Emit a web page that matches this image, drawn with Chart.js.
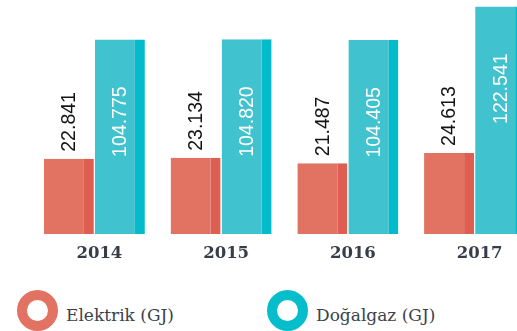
<!DOCTYPE html>
<html lang="tr">
<head>
<meta charset="utf-8">
<title>Enerji Tüketimi</title>
<script src="https://cdn.jsdelivr.net/npm/chart.js@4.4.1/dist/chart.umd.min.js"></script>
<style>
  html, body { margin: 0; padding: 0; background: #ffffff; overflow: hidden; }
  body { width: 517px; height: 331px; position: relative; }
  #wrap { position: absolute; left: 0; top: 0; width: 540px; height: 270px; }
  #legend { position: absolute; left: 0; top: 290px; width: 517px; height: 41px; }
  .item { position: absolute; top: 0; height: 41px; display: flex; align-items: center; }
  .ring { width: 21px; height: 21px; border-radius: 50%; border: 10px solid; flex: none; }
  .txt { font-family: 'DejaVu Serif', serif; font-size: 17px; color: #3b424c; margin-left: 8px; white-space: nowrap; position: relative; top: 4px; }
</style>
</head>
<body>
<div id="wrap"><canvas id="chart"></canvas></div>
<div id="legend"></div>
<script>
// Yıllık enerji tüketimi
const years = ['2014', '2015', '2016', '2017'];
const elektrik = [22841, 23134, 21487, 24613];     // GJ
const dogalgaz = [104775, 104820, 104405, 122541]; // GJ
const seriesNames = ['Elektrik (GJ)', 'Doğalgaz (GJ)'];

const RED = '#e27262', RED_DARK = '#de5f52';
const TEAL = '#40c3ce', TEAL_DARK = '#02bccb';
const SLAB = "'DejaVu Serif', serif";

// 22841 -> "22.841"
function fmt(v) {
  return String(v).replace(/\B(?=(\d{3})+(?!\d))/g, '.');
}

// Rotated value labels: above the red bars, inside the teal bars
const valueLabels = {
  id: 'valueLabels',
  afterDatasetsDraw(chart) {
    const ctx = chart.ctx;
    ctx.save();
    ctx.font = '19.5px "Liberation Sans", Arial, sans-serif';
    ctx.textBaseline = 'middle';
    chart.data.datasets.forEach((ds, di) => {
      const meta = chart.getDatasetMeta(di);
      meta.data.forEach((bar, i) => {
        const label = fmt(ds.data[i]);
        ctx.save();
        if (di === 0) {
          ctx.translate(bar.x, bar.y - 7);
          ctx.rotate(-Math.PI / 2);
          ctx.textAlign = 'left';
          ctx.fillStyle = '#141414';
        } else {
          ctx.translate(bar.x, bar.y + 47);
          ctx.rotate(-Math.PI / 2);
          ctx.textAlign = 'right';
          ctx.fillStyle = '#ffffff';
        }
        ctx.fillText(label, 0, 1);
        ctx.restore();
      });
    });
    ctx.restore();
  }
};

const chart = new Chart(document.getElementById('chart'), {
  type: 'bar',
  data: {
    labels: years,
    datasets: [
      {
        label: seriesNames[0],
        data: elektrik,
        yAxisID: 'y',
        backgroundColor: RED,
        borderColor: RED_DARK,
        borderWidth: { top: 0, left: 0, bottom: 0, right: 10 },
        borderSkipped: false
      },
      {
        label: seriesNames[1],
        data: dogalgaz,
        yAxisID: 'y2',
        backgroundColor: TEAL,
        borderColor: TEAL_DARK,
        borderWidth: { top: 0, left: 0, bottom: 0, right: 10 },
        borderSkipped: false
      }
    ]
  },
  options: {
    responsive: true,
    maintainAspectRatio: false,
    animation: false,
    devicePixelRatio: 1,
    layout: { padding: { left: 31, right: 2, top: 0, bottom: 0 } },
    datasets: {
      bar: { categoryPercentage: 0.805, barPercentage: 0.98, inflateAmount: 0 }
    },
    scales: {
      x: {
        grid: { display: false, drawTicks: false },
        border: { display: false },
        ticks: {
          color: '#363d48',
          font: { family: SLAB, size: 16.5, weight: 'bold' },
          padding: 10,
          labelOffset: 5
        },
        afterFit(scale) { scale.height = 36; }
      },
      y: { display: false, min: 0, max: 71000 },
      y2: { display: false, min: 0, max: 126000 }
    },
    plugins: {
      legend: { display: false },
      tooltip: { enabled: false }
    }
  },
  plugins: [valueLabels]
});

// Legend built from the chart's datasets
const legendEl = document.getElementById('legend');
const legendX = [17, 267];
chart.data.datasets.forEach((ds, i) => {
  const item = document.createElement('div');
  item.className = 'item';
  item.style.left = legendX[i] + 'px';
  const ring = document.createElement('span');
  ring.className = 'ring';
  ring.style.borderColor = i === 0 ? RED : '#05bdcb';
  const txt = document.createElement('span');
  txt.className = 'txt';
  txt.textContent = ds.label;
  item.appendChild(ring);
  item.appendChild(txt);
  legendEl.appendChild(item);
});
</script>
</body>
</html>
